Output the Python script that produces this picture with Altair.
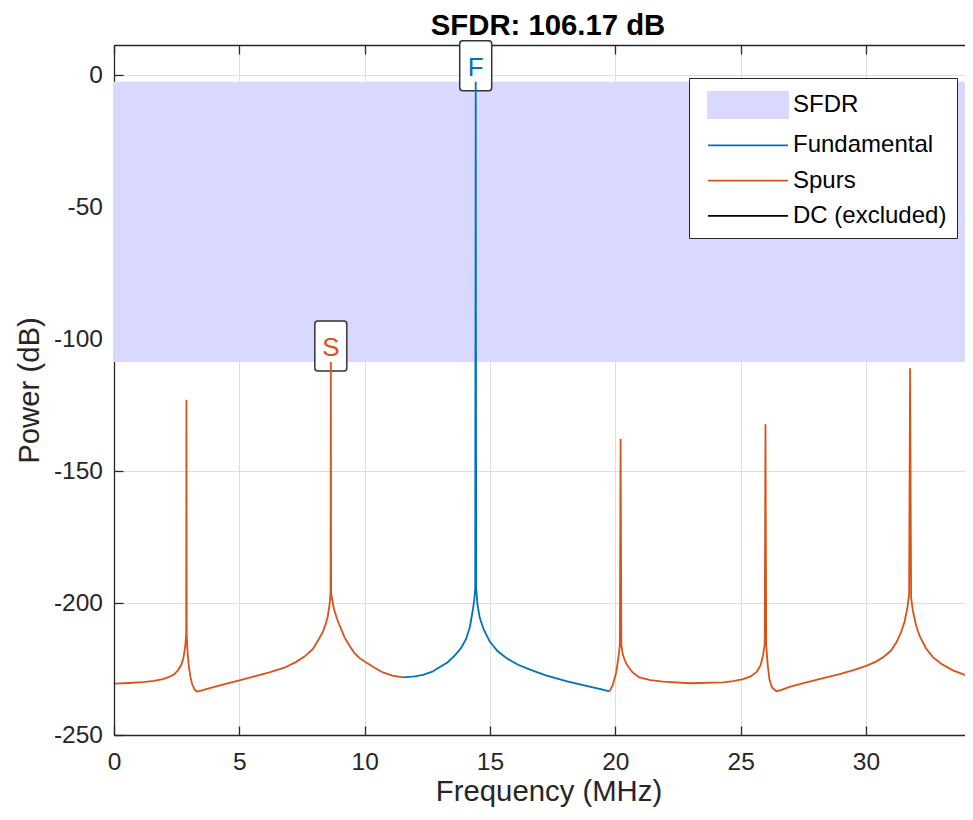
import altair as alt
import pandas as pd

# ---------------- data ----------------
dc_freq = [0.0, 0.04]
dc_power = [-230.5, -230.5]

spur1_freq = [0.04, 0.6, 1.15, 1.6, 1.95, 2.2, 2.4, 2.55, 2.68, 2.77, 2.84, 2.88, 2.89, 2.90,
              2.93, 2.98, 3.05, 3.12, 3.22, 3.3, 3.45, 3.68, 4.3, 5.0, 5.6, 6.2, 6.8, 7.27, 7.6,
              7.93, 8.15, 8.33, 8.45, 8.53, 8.6, 8.64, 8.65, 8.66, 8.7, 8.78, 8.88, 9.0, 9.2,
              9.4, 9.6, 9.79, 10.06, 10.4, 10.73, 11.1, 11.53]
spur1_power = [-230.5, -230.3, -230.0, -229.5, -228.8, -228.0, -227.0, -225.5, -223.5, -220.8,
               -216.5, -212.0, -123.0, -212.0, -218.0, -223.5, -228.0, -230.8, -232.8, -233.5,
               -233.3, -232.6, -231.0, -229.3, -227.8, -226.3, -224.5, -222.3, -220.3, -217.5,
               -214.0, -211.0, -207.8, -205.0, -200.5, -196.0, -108.67, -196.0, -198.5, -202.5,
               -205.5, -208.5, -213.0, -216.3, -219.0, -220.8, -222.5, -224.5, -226.3, -227.5,
               -228.2]

fund_freq = [11.53, 12.0, 12.33, 12.7, 13.0, 13.3, 13.6, 13.85, 14.05, 14.2, 14.3, 14.37, 14.41,
             14.43, 14.45, 14.5, 14.59, 14.75, 14.99, 15.3, 15.65, 16.1, 16.6, 17.2, 18.04, 18.97,
             19.5, 19.77]
fund_power = [-228.2, -227.8, -227.2, -226.0, -224.2, -222.5, -219.8, -217.0, -213.5, -209.0,
              -203.5, -199.0, -194.5, -2.5, -194.5, -200.5, -205.5, -210.0, -214.6, -218.2,
              -220.8, -223.3, -225.2, -227.3, -229.6, -231.7, -232.8, -233.5]

spur2_freq = [19.77, 19.9, 20.03, 20.12, 20.18, 20.21, 20.24, 20.3, 20.36, 20.45, 20.69, 20.96,
              21.4, 21.91, 22.97, 24.3, 24.7, 25.1, 25.4, 25.63, 25.8, 25.9, 25.96, 25.99, 26.02,
              26.08, 26.15, 26.25, 26.42, 26.6, 26.95, 27.62, 28.3, 28.95, 29.5, 30.01, 30.4,
              30.68, 31.0, 31.21, 31.4, 31.54, 31.65, 31.72, 31.76, 31.8, 31.87, 32.0, 32.14,
              32.4, 32.67, 33.0, 33.47, 34.2]
spur2_power = [-233.5, -231.0, -226.5, -221.0, -216.0, -137.9, -216.0, -219.5, -221.2, -223.2,
               -226.3, -228.2, -229.2, -229.8, -230.4, -230.1, -229.6, -228.8, -227.8, -226.2,
               -223.5, -219.5, -215.5, -132.3, -216.0, -223.5, -229.0, -232.0, -233.4, -233.0,
               -231.8, -230.1, -228.5, -226.9, -225.4, -223.8, -222.2, -220.6, -218.0, -215.0,
               -211.0, -207.0, -202.0, -196.6, -111.1, -198.0, -203.0, -208.5, -212.5, -217.3,
               -220.5, -223.0, -225.5, -228.2]

marker_text = ["F", "S"]
marker_series = ["Fundamental", "Spurs"]
marker_freq = [14.43, 8.65]
marker_power = [-2.5, -108.67]

sfdr_freq = [0.0, 33.95]
sfdr_power = [-2.5, -108.67]  # fundamental level, largest spur level

legend_names = ["SFDR", "Fundamental", "Spurs", "DC (excluded)"]
legend_colors = ["#d9d9ff", "#0072bd", "#d95319", "#000000"]

x_ticks = [0, 5, 10, 15, 20, 25, 30]
y_ticks = [-250, -200, -150, -100, -50, 0]
x_domain = [0, 33.95]
y_domain = [-250, 11.4]

title_text = "SFDR: 106.17 dB"
x_title = "Frequency (MHz)"
y_title = "Power (dB)"

# ---------------- tables ----------------
segments = [
    ("DC (excluded)", dc_freq, dc_power),
    ("Spurs", spur1_freq, spur1_power),
    ("Fundamental", fund_freq, fund_power),
    ("Spurs", spur2_freq, spur2_power),
]
frames = []
for k, (name, fs, ps) in enumerate(segments):
    d = pd.DataFrame({"freq": fs, "power": ps})
    d["series"] = name
    d["seg"] = k
    d["idx"] = range(len(d))
    frames.append(d)
lines_df = pd.concat(frames, ignore_index=True)

markers_df = pd.DataFrame({"label": marker_text, "series": marker_series,
                           "freq": marker_freq, "power": marker_power})
band_df = pd.DataFrame({"f0": [sfdr_freq[0]], "f1": [sfdr_freq[1]],
                        "top": [sfdr_power[0]], "bottom": [sfdr_power[1]],
                        "series": [legend_names[0]]})

FONT = "Liberation Sans"
AX = "#262626"
GRID = "#dedede"

xs = alt.Scale(domain=x_domain, nice=False, zero=False)
ys = alt.Scale(domain=y_domain, nice=False, zero=False)
cs = alt.Scale(domain=legend_names, range=legend_colors)

main_x_axis = alt.Axis(orient="bottom", values=x_ticks, title=x_title, grid=True,
                       gridColor=GRID, gridWidth=1, ticks=False, domain=True,
                       domainColor=AX, domainWidth=1.3, labelFont=FONT,
                       labelFontSize=24.5, labelColor=AX, labelPadding=15,
                       labelFlush=False,
                       titleFont=FONT, titleFontSize=29.3, titleFontWeight="normal",
                       titleColor=AX, titlePadding=4, titleX=434.5)
main_y_axis = alt.Axis(orient="left", values=y_ticks, title=y_title, grid=True,
                       gridColor=GRID, gridWidth=1, ticks=False, domain=True,
                       domainColor=AX, domainWidth=1.3, labelFont=FONT,
                       labelFontSize=24.5, labelColor=AX, labelPadding=11.5,
                       labelFlush=False, labelExpr="'' + datum.value",
                       titleFont=FONT, titleFontSize=29.3, titleFontWeight="normal",
                       titleColor=AX, titlePadding=8.5)


def tick_axis(orient, values):
    return alt.Axis(orient=orient, values=values, offset=-9, tickSize=9, ticks=True,
                    tickColor=AX, tickWidth=1.3, labels=False, domain=False,
                    grid=False, title=None)


sym_expr = ("datum.value === 'SFDR' ? 'M-0.5,-0.825L4.5,-0.825L4.5,0.825L-0.5,0.825Z' "
            ": 'M-0.5,0L4.5,0'")
stroke_expr = ("datum.value === 'SFDR' ? 'transparent' : "
               "(datum.value === 'Fundamental' ? '#0072bd' : "
               "(datum.value === 'Spurs' ? '#d95319' : '#000000'))")

legend = alt.Legend(
    title=None, orient="none", legendX=575, legendY=33,
    strokeColor=AX, fillColor="white", padding=10, cornerRadius=0,
    labelFont=FONT, labelFontSize=24, labelColor="#000000", labelLimit=300,
    labelOffset=60, symbolSize=1024, symbolStrokeWidth=1.8, rowPadding=6.3,
    symbolType=alt.ExprRef(sym_expr),
    symbolStrokeColor=alt.ExprRef(stroke_expr),
    symbolOpacity=1,
)

band = alt.Chart(band_df).mark_rect(opacity=1).encode(
    x=alt.X("f0:Q", scale=xs, axis=main_x_axis),
    x2="f1:Q",
    y=alt.Y("top:Q", scale=ys, axis=main_y_axis),
    y2="bottom:Q",
    color=alt.Color("series:N", scale=cs, legend=legend),
)

box_path = ("M-0.52,-1.64 L0.52,-1.64 Q0.64,-1.64 0.64,-1.52 L0.64,0.24 "
            "Q0.64,0.36 0.52,0.36 L-0.52,0.36 Q-0.64,0.36 -0.64,0.24 "
            "L-0.64,-1.52 Q-0.64,-1.64 -0.52,-1.64 Z")
boxes = alt.Chart(markers_df).mark_point(
    shape=box_path, size=2500, filled=True, fill="white", stroke="#333333",
    strokeWidth=1.5, opacity=1,
).encode(
    x=alt.X("freq:Q", scale=xs, axis=tick_axis("bottom", x_ticks)),
    y=alt.Y("power:Q", scale=ys, axis=tick_axis("left", y_ticks)),
)

lines = alt.Chart(lines_df).mark_line(strokeWidth=1.8, clip=True).encode(
    x=alt.X("freq:Q", scale=xs,
            axis=alt.Axis(orient="top", labels=False, ticks=False, grid=False,
                          domain=True, domainColor=AX, domainWidth=1.3, title=None)),
    y=alt.Y("power:Q", scale=ys, axis=None),
    color=alt.Color("series:N", scale=cs, legend=None),
    detail="seg:N",
    order="idx:Q",
)

texts = alt.Chart(markers_df).mark_text(
    font=FONT, fontSize=26, baseline="alphabetic", align="center", dy=-6,
).encode(
    x=alt.X("freq:Q", scale=xs, axis=tick_axis("top", x_ticks)),
    y=alt.Y("power:Q", scale=ys, axis=None),
    text="label:N",
    color=alt.Color("series:N", scale=cs, legend=None),
)

chart = alt.layer(band, boxes, lines, texts).resolve_axis(
    x="independent", y="independent"
).properties(
    width=851, height=690,
    autosize=alt.AutoSizeParams(type="none"),
    padding={"left": 106, "top": 37, "right": 0, "bottom": 73},
    title=alt.Title(title_text, font=FONT, fontSize=29.3, fontWeight="bold",
                    color="#000000", anchor="middle", frame="group", offset=-3.7,
                    dx=8.5),
).configure_view(stroke=None)

chart.save("out.html", embed_options={"renderer": "svg", "actions": False})
